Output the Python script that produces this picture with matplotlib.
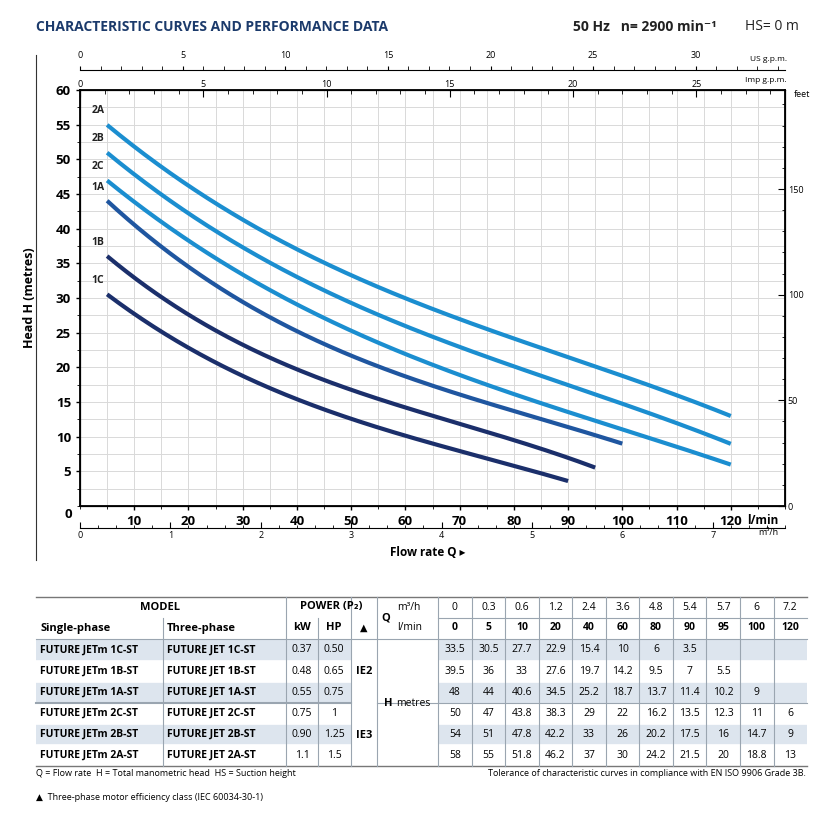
import numpy as np
import matplotlib.pyplot as plt
from matplotlib.ticker import MultipleLocator

plt.rcParams['font.family'] = ['Open Sans', 'DejaVu Sans']

# data
q_m3h = ["0", "0.3", "0.6", "1.2", "2.4", "3.6", "4.8", "5.4", "5.7", "6", "7.2"]
q_lmin = [0, 5, 10, 20, 40, 60, 80, 90, 95, 100, 120]
models = ["1C", "1B", "1A", "2C", "2B", "2A"]
single = ["FUTURE JETm 1C-ST", "FUTURE JETm 1B-ST", "FUTURE JETm 1A-ST",
          "FUTURE JETm 2C-ST", "FUTURE JETm 2B-ST", "FUTURE JETm 2A-ST"]
three = ["FUTURE JET 1C-ST", "FUTURE JET 1B-ST", "FUTURE JET 1A-ST",
         "FUTURE JET 2C-ST", "FUTURE JET 2B-ST", "FUTURE JET 2A-ST"]
kw = ["0.37", "0.48", "0.55", "0.75", "0.90", "1.1"]
hp = ["0.50", "0.65", "0.75", "1", "1.25", "1.5"]
head = {
    "1C": [33.5, 30.5, 27.7, 22.9, 15.4, 10, 6, 3.5],
    "1B": [39.5, 36, 33, 27.6, 19.7, 14.2, 9.5, 7, 5.5],
    "1A": [48, 44, 40.6, 34.5, 25.2, 18.7, 13.7, 11.4, 10.2, 9],
    "2C": [50, 47, 43.8, 38.3, 29, 22, 16.2, 13.5, 12.3, 11, 6],
    "2B": [54, 51, 47.8, 42.2, 33, 26, 20.2, 17.5, 16, 14.7, 9],
    "2A": [58, 55, 51.8, 46.2, 37, 30, 24.2, 21.5, 20, 18.8, 13],
}
colors = {"2A": "#1b8ed0", "2B": "#1b8ed0", "2C": "#1b8ed0",
          "1A": "#1f56a0", "1B": "#1b2f6b", "1C": "#1b2f6b"}
navy = "#1b3a6b"

W, H = 822, 818
fig = plt.figure(figsize=(W / 100, H / 100), dpi=100)

def fx(px):
    return px / W

def fy(py):
    return 1 - py / H

# main chart
L, R, T, B = 80, 785, 90, 506
ax = fig.add_axes([fx(L), fy(B), fx(R - L), fy(T) - fy(B)])
xmax = 130
ax.set_xlim(0, xmax)
ax.set_ylim(0, 60)
for m in models:
    h = head[m]
    q = np.array(q_lmin[1:len(h)], float)
    # smooth the drawn curve through the table points
    coef = np.polyfit(q, h[1:], 3)
    qs = np.linspace(q[0], q[-1], 200)
    ax.plot(qs, np.polyval(coef, qs), color=colors[m], lw=3, solid_capstyle='butt')
    ax.text(q[0] - 0.5, h[1] + 1.2, m, ha='right', va='bottom',
            fontsize=7.5, fontweight='bold', color='#222222')
ax.xaxis.set_major_locator(MultipleLocator(10))
ax.xaxis.set_minor_locator(MultipleLocator(5))
ax.yaxis.set_major_locator(MultipleLocator(5))
ax.yaxis.set_minor_locator(MultipleLocator(2.5))
ax.grid(which='both', color='#d9d9d9', lw=0.7)
ax.set_axisbelow(True)
ax.set_xticks(range(10, 121, 10))
ax.tick_params(labelsize=9.5, length=3, width=1)
for lab in ax.get_xticklabels() + ax.get_yticklabels():
    lab.set_fontweight('bold')
ax.set_yticks(range(5, 61, 5))
ax.text(-1.5, -0.3, "0", ha='right', va='top', fontsize=9.5, fontweight='bold')
ax.text(123, -1.2, "l/min", ha='left', va='top', fontsize=8.5, fontweight='bold')
ax.set_ylabel("Head H (metres)", fontsize=9, fontweight='bold', labelpad=14)
for s in ax.spines.values():
    s.set_linewidth(1.3)

# feet axis on the right
ax_ft = ax.twinx()
ax_ft.set_ylim(0, 60 / 0.3048)
ax_ft.set_yticks([0, 50, 100, 150])
ax_ft.yaxis.set_minor_locator(MultipleLocator(10))
ax_ft.tick_params(labelsize=6.5, length=5, direction='in', pad=2)
ax_ft.tick_params(which='minor', length=2.5, direction='in')
ax.text(1.012, 1.0, "feet", transform=ax.transAxes, fontsize=6.5, va='top')

# m3/h axis below
ax_m3 = fig.add_axes([fx(L), fy(528), fx(R - L), 0.0001])
ax_m3.set_xlim(0, xmax * 0.06)
for s in ["top", "left", "right"]:
    ax_m3.spines[s].set_visible(False)
ax_m3.set_yticks([])
ax_m3.xaxis.set_major_locator(MultipleLocator(1))
ax_m3.xaxis.set_minor_locator(MultipleLocator(0.2))
ax_m3.tick_params(labelsize=6.5, length=4, direction='in', pad=2)
ax_m3.tick_params(which='minor', length=2, direction='in')
ax_m3.text(7.5, 0, "m³/h", fontsize=6.5, ha='left', va='top')

# imperial gpm axis at the top of the frame
ax_imp = ax.twiny()
ax_imp.set_xlim(0, xmax / 4.546)
ax_imp.xaxis.set_major_locator(MultipleLocator(5))
ax_imp.xaxis.set_minor_locator(MultipleLocator(1))
ax_imp.tick_params(labelsize=6.5, length=5, direction='in', pad=1)
ax_imp.tick_params(which='minor', length=3, direction='in')

# US gpm axis above
ax_us = fig.add_axes([fx(L), fy(70), fx(R - L), 0.0001])
ax_us.set_xlim(0, xmax / 3.785)
for s in ["bottom", "left", "right"]:
    ax_us.spines[s].set_visible(False)
ax_us.set_yticks([])
ax_us.xaxis.tick_top()
ax_us.xaxis.set_major_locator(MultipleLocator(5))
ax_us.xaxis.set_minor_locator(MultipleLocator(1))
ax_us.tick_params(which='both', labelsize=6.5, length=3, direction='out', pad=4)

# overlay for free text and the table
ov = fig.add_axes([0, 0, 1, 1], zorder=-1)
ov.set_xlim(0, W)
ov.set_ylim(H, 0)
ov.axis('off')
ov.text(36, 27, "CHARACTERISTIC CURVES AND PERFORMANCE DATA", fontsize=10,
        fontweight='bold', color=navy, va='center')
ov.text(573, 27, "50 Hz   n= 2900 min⁻¹", fontsize=10, fontweight='bold',
        color='#222222', va='center')
ov.text(745, 27, "HS= 0 m", fontsize=10, color='#222222', va='center')
ov.text(750, 63, "US g.p.m.", fontsize=6, va='bottom')
ov.text(745, 84, "Imp g.p.m.", fontsize=6, va='bottom')
ov.plot([36, 36], [55, 560], color='#333333', lw=0.8)
ov.text(428, 552, "Flow rate Q ▸", fontsize=8.5, fontweight='bold', ha='center', va='center')

# table
cols = [36, 163, 286, 318, 351, 377, 438] + [438 + 33.55 * k for k in range(1, 12)]
rows = [597, 618, 639, 661, 682, 703, 724, 745, 766]
shade = "#dde5ee"
line = "#9aa5b0"
for i in range(6):
    if i % 2 == 0:
        y0, y1 = rows[i + 2], rows[i + 3]
        for a, b in [(36, 351), (438, 807)]:
            ov.fill_between([a, b], y0, y1, color=shade, lw=0, zorder=0)
ov.plot([36, 807], [rows[0], rows[0]], color='#777777', lw=1)
ov.plot([36, 807], [rows[-1], rows[-1]], color='#777777', lw=1)
ov.plot([36, 807], [rows[2], rows[2]], color=line, lw=0.8)
ov.plot([36, 351], [rows[5], rows[5]], color=line, lw=1.5)
ov.plot([377, 807], [rows[5], rows[5]], color=line, lw=0.8)
ov.plot([438, 807], [rows[1], rows[1]], color=line, lw=0.8)
for r in [3, 4, 6, 7]:
    ov.plot([36, 351], [rows[r], rows[r]], color='white', lw=1.2)
    ov.plot([438, 807], [rows[r], rows[r]], color='white', lw=1.2)
for c in cols[1:-1]:
    top = rows[1] if c in (163, 318) else rows[0]
    ov.plot([c, c], [top, rows[-1]], color=line, lw=0.8)

fs = 8
ov.text(160, 607, "MODEL", fontsize=fs, fontweight='bold', ha='center', va='center')
ov.text(40, 628, "Single-phase", fontsize=fs, fontweight='bold', va='center')
ov.text(167, 628, "Three-phase", fontsize=fs, fontweight='bold', va='center')
ov.text(331, 607, "POWER (P₂)", fontsize=fs, fontweight='bold', ha='center', va='center')
ov.text(302, 628, "kW", fontsize=fs, fontweight='bold', ha='center', va='center')
ov.text(334, 628, "HP", fontsize=fs, fontweight='bold', ha='center', va='center')
ov.text(364, 628, "▲", fontsize=7, ha='center', va='center')
ov.text(386, 618, "Q", fontsize=fs, fontweight='bold', ha='center', va='center')
ov.text(397, 607, "m³/h", fontsize=7.5, va='center')
ov.text(397, 628, "l/min", fontsize=7.5, va='center')
ov.text(384, 703, "H", fontsize=fs, fontweight='bold', va='center')
ov.text(396, 704, "metres", fontsize=7.5, va='center')
ov.text(364, 671, "IE2", fontsize=fs, fontweight='bold', ha='center', va='center')
ov.text(364, 735, "IE3", fontsize=fs, fontweight='bold', ha='center', va='center')
for k in range(11):
    cx = (cols[6 + k] + cols[7 + k]) / 2
    ov.text(cx, 607, q_m3h[k], fontsize=7.5, ha='center', va='center')
    ov.text(cx, 628, str(q_lmin[k]), fontsize=7.5, fontweight='bold', ha='center', va='center')
for i, m in enumerate(models):
    cy = (rows[i + 2] + rows[i + 3]) / 2
    ov.text(40, cy, single[i], fontsize=7.5, fontweight='bold', va='center')
    ov.text(167, cy, three[i], fontsize=7.5, fontweight='bold', va='center')
    ov.text(302, cy, kw[i], fontsize=7.5, ha='center', va='center')
    ov.text(334, cy, hp[i], fontsize=7.5, ha='center', va='center')
    for k, v in enumerate(head[m]):
        cx = (cols[6 + k] + cols[7 + k]) / 2
        ov.text(cx, cy, f"{v:g}", fontsize=7.5, ha='center', va='center')

ov.text(36, 774, "Q = Flow rate  H = Total manometric head  HS = Suction height",
        fontsize=6.5, va='center')
ov.text(806, 774, "Tolerance of characteristic curves in compliance with EN ISO 9906 Grade 3B.",
        fontsize=6.5, va='center', ha='right')
ov.text(36, 798, "▲  Three-phase motor efficiency class (IEC 60034-30-1)",
        fontsize=6.5, va='center')

fig.savefig("out.png", dpi=100)
